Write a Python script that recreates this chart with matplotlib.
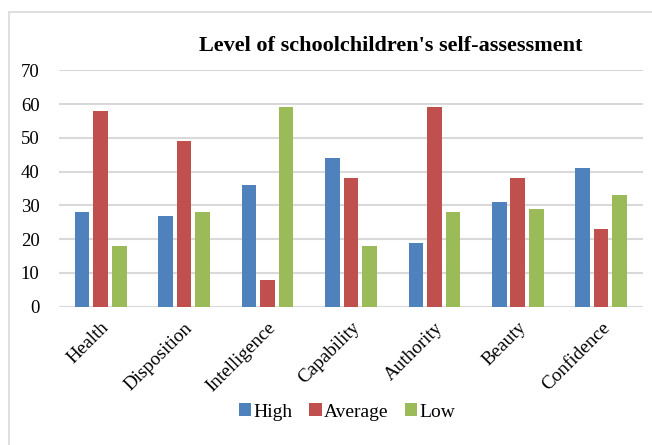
import matplotlib
matplotlib.use("Agg")
import matplotlib.pyplot as plt
import numpy as np
from matplotlib.patches import Rectangle

categories = ["Health", "Disposition", "Intelligence", "Capability", "Authority", "Beauty", "Confidence"]
high = [28, 27, 36, 44, 19, 31, 41]
average = [58, 49, 8, 38, 59, 38, 23]
low = [18, 28, 59, 18, 28, 29, 33]
series_names = ["High", "Average", "Low"]
colors = ["#4F81BD", "#C0504D", "#9BBB59"]
yticks = [0, 10, 20, 30, 40, 50, 60, 70]

plt.rcParams['font.family'] = ['Liberation Serif', 'DejaVu Serif']

fig = plt.figure(figsize=(6.52, 4.45), dpi=100)
ax = fig.add_axes([0.0905, 0.3108, 0.8955, 0.5312])

x = np.arange(len(categories))
offs = [-0.222, 0.0, 0.222]
for vals, name, c, o in zip([high, average, low], series_names, colors, offs):
    ax.bar(x + o, vals, width=0.175, color=c, label=name, zorder=3)

ax.set_xlim(-0.5, len(categories) - 0.5)
ax.set_ylim(0, 70)
ax.set_yticks(yticks)
ax.set_yticklabels([str(t) for t in yticks], fontsize=13.5)
ax.set_xticks(x)
ax.set_xticklabels(categories, rotation=45, ha='right', rotation_mode='anchor', fontsize=13.8)
ax.tick_params(axis='both', length=0)
ax.tick_params(axis='y', pad=14)
ax.tick_params(axis='x', pad=9)
for s in ax.spines.values():
    s.set_visible(False)
ax.grid(axis='y', color='#D9D9D9', linewidth=1.5, zorder=0)
ax.set_axisbelow(True)

fig.text(0.600, 0.885, "Level of schoolchildren's self-assessment", ha='center', va='baseline',
         fontsize=16, fontweight='bold')

leg = fig.legend(loc='center', bbox_to_anchor=(0.532, 0.074), ncol=3, frameon=False,
                 fontsize=14, handlelength=0.65, handleheight=0.65, handletextpad=0.1,
                 columnspacing=0.85)

fig.patches.append(Rectangle((9 / 652, -0.1), 1.2, 1.1 - 12.5 / 445, transform=fig.transFigure,
                             fill=False, edgecolor='#D9D9D9', linewidth=1.2))

fig.savefig("out.png", dpi=100)
